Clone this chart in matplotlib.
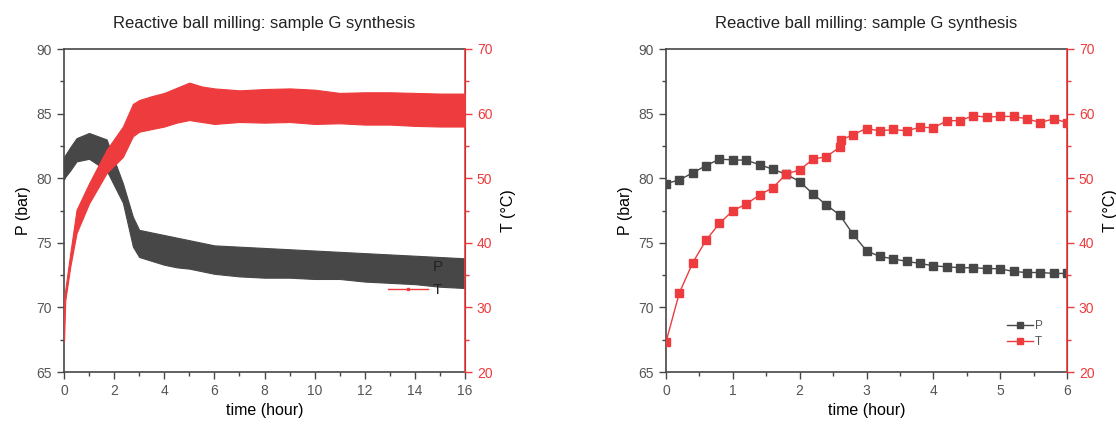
import matplotlib.pyplot as plt
import numpy as np
from matplotlib.ticker import MultipleLocator

plt.rcParams['font.family'] = ['Liberation Sans', 'DejaVu Sans']

GREY = '#474747'
RED = '#ee3b3d'
TICKGREY = '#555555'

# left panel: 16 h run, the signal oscillates so keep upper / lower envelopes
t_long = [0, 0.05, 0.25, 0.5, 1.0, 1.7, 2.35, 2.75, 3.0, 3.5, 4.0, 4.5, 5.0, 5.5,
          6, 7, 8, 9, 10, 11, 12, 13, 14, 15, 16]
p_hi = [81.6, 81.8, 82.4, 83.1, 83.5, 83.0, 79.6, 77.0, 76.0, 75.8, 75.6, 75.4, 75.2,
        75.0, 74.8, 74.7, 74.6, 74.5, 74.4, 74.3, 74.2, 74.1, 74.0, 73.9, 73.8]
p_lo = [79.9, 80.1, 80.6, 81.3, 81.5, 80.6, 78.1, 74.7, 73.9, 73.6, 73.3, 73.1, 73.0,
        72.8, 72.6, 72.4, 72.3, 72.3, 72.2, 72.2, 72.0, 71.9, 71.8, 71.6, 71.5]
T_hi = [31.0, 32.7, 38.4, 45.1, 49.2, 54.4, 58.0, 61.5, 62.1, 62.7, 63.2, 64.0, 64.8,
        64.2, 63.9, 63.6, 63.8, 63.9, 63.7, 63.2, 63.3, 63.3, 63.2, 63.1, 63.1]
T_lo = [24.7, 31.1, 36.3, 41.5, 46.1, 50.8, 53.3, 56.5, 57.2, 57.6, 58.0, 58.6, 59.0,
        58.7, 58.4, 58.7, 58.6, 58.7, 58.4, 58.5, 58.3, 58.3, 58.1, 58.0, 58.0]

# right panel: first 6 h, one point every 0.2 h
t_P = [0, 0.2, 0.4, 0.6, 0.8, 1.0, 1.2, 1.4, 1.6, 1.8, 2.0, 2.2, 2.4, 2.6, 2.8, 3.0,
       3.2, 3.4, 3.6, 3.8, 4.0, 4.2, 4.4, 4.6, 4.8, 5.0, 5.2, 5.4, 5.6, 5.8, 6.0]
P_short = [79.58, 79.87, 80.41, 80.98, 81.47, 81.42, 81.39, 81.05, 80.69, 80.30, 79.74,
           78.78, 77.93, 77.15, 75.65, 74.38, 73.94, 73.76, 73.56, 73.40, 73.22, 73.14,
           73.07, 73.07, 73.01, 72.99, 72.78, 72.70, 72.70, 72.63, 72.63]
t_T = [0, 0.2, 0.4, 0.6, 0.8, 1.0, 1.2, 1.4, 1.6, 1.8, 2.0, 2.2, 2.4, 2.6, 2.62, 2.8,
       3.0, 3.2, 3.4, 3.6, 3.8, 4.0, 4.2, 4.4, 4.6, 4.8, 5.0, 5.2, 5.4, 5.6, 5.8, 6.0]
T_short = [24.65, 32.25, 36.91, 40.42, 43.01, 44.97, 46.0, 47.40, 48.54, 50.66, 51.28,
           52.94, 53.35, 54.8, 55.9, 56.76, 57.69, 57.33, 57.54, 57.33, 57.90, 57.80,
           58.88, 58.93, 59.66, 59.45, 59.56, 59.56, 59.19, 58.62, 59.19, 58.62]

title = 'Reactive ball milling: sample G synthesis'

fig = plt.figure(figsize=(11.16, 4.24), dpi=100)
axL = fig.add_axes([64/1116, 52/424, 401/1116, 323/424])
axR = fig.add_axes([666/1116, 52/424, 401/1116, 323/424])


def style(ax, xmax, xmaj):
    ax.set_xlim(0, xmax)
    ax.set_ylim(65, 90)
    ax.xaxis.set_major_locator(MultipleLocator(xmaj))
    ax.xaxis.set_minor_locator(MultipleLocator(xmaj / 2))
    ax.yaxis.set_major_locator(MultipleLocator(5))
    ax.yaxis.set_minor_locator(MultipleLocator(2.5))
    ax.tick_params(which='major', length=5, width=1, colors=GREY, labelcolor=TICKGREY, labelsize=10)
    ax.tick_params(which='minor', length=3, width=1, colors=GREY)
    for s in ['left', 'bottom', 'top']:
        ax.spines[s].set_color(GREY)
        ax.spines[s].set_linewidth(1.2)
    ax.set_xlabel('time (hour)', fontsize=11.5, labelpad=4)
    ax.set_ylabel('P (bar)', fontsize=11.5, labelpad=4)
    ax.set_title(title, fontsize=12, color='#222222', pad=15)
    tw = ax.twinx()
    tw.set_ylim(20, 70)
    tw.yaxis.set_major_locator(MultipleLocator(10))
    tw.yaxis.set_minor_locator(MultipleLocator(5))
    tw.tick_params(which='major', length=5, width=1, colors=RED, labelsize=10)
    tw.tick_params(which='minor', length=3, width=1, colors=RED)
    tw.spines['right'].set_color(RED)
    tw.spines['right'].set_linewidth(1.2)
    tw.spines['top'].set_visible(False)
    tw.spines['left'].set_visible(False)
    tw.spines['bottom'].set_visible(False)
    tw.set_ylabel('T (°C)', fontsize=11.5, labelpad=6)
    return tw


twL = style(axL, 16, 2)
twR = style(axR, 6, 1)

# left: dense oscillating records drawn as bands
axL.fill_between(t_long, p_lo, p_hi, color=GREY, lw=0.8, edgecolor=GREY)
twL.fill_between(t_long, T_lo, T_hi, color=RED, lw=0.8, edgecolor=RED)
hP, = axL.plot([], [], color=GREY, lw=1, marker='s', ms=2, label='P')
hT, = twL.plot([], [], color=RED, lw=1, marker='s', ms=2, label='T')
leg = twL.legend([hP, hT], ['P', 'T'], loc='upper left', bbox_to_anchor=(0.79, 0.37),
                 frameon=False, fontsize=11, handlelength=2.6, handletextpad=0.3,
                 labelspacing=0.6, borderpad=0)
for txt in leg.get_texts():
    txt.set_color('#222222')

# right: sampled points
axR.plot(t_P, P_short, color=GREY, lw=1, marker='s', ms=5.5, label='P', zorder=3)
twR.plot(t_T, T_short, color=RED, lw=1, marker='s', ms=5.5, label='T', zorder=3)
hP2, = axR.plot([], [], color=GREY, lw=1, marker='s', ms=5)
hT2, = axR.plot([], [], color=RED, lw=1, marker='s', ms=5)
leg2 = twR.legend([hP2, hT2], ['P', 'T'], loc='lower right', bbox_to_anchor=(0.955, 0.055),
                  frameon=False, fontsize=8.5, handlelength=2.2, handletextpad=0.2,
                  labelspacing=0.35, borderpad=0)
for txt in leg2.get_texts():
    txt.set_color('#555555')

fig.savefig('out.png', dpi=100)
